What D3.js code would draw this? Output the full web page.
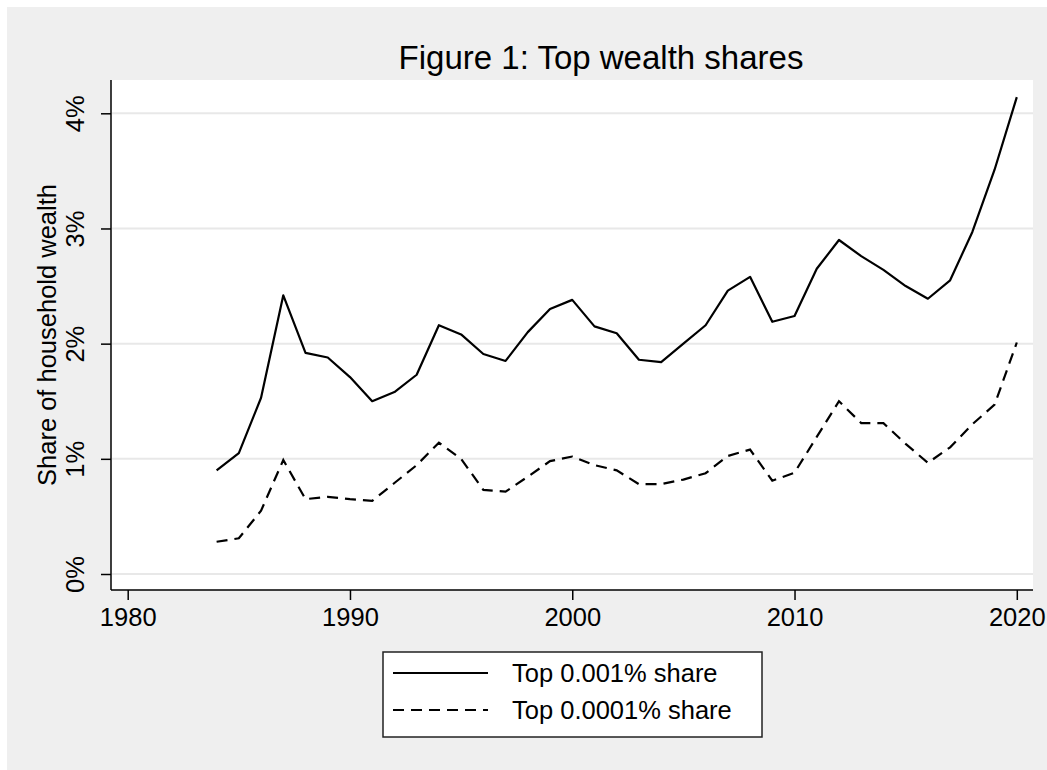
<!DOCTYPE html>
<html>
<head>
<meta charset="utf-8">
<script src="https://cdn.jsdelivr.net/npm/d3@7"></script>
<style>
  body { margin: 0; background: #fff; }
  text { font-family: "Liberation Sans", Arial, sans-serif; fill: #000; }
</style>
</head>
<body>
<div id="chart"></div>
<script>
// values (percent of household wealth)
const years = d3.range(1984, 2021);
const top001 = [0.90, 1.05, 1.53, 2.42, 1.92, 1.88, 1.71, 1.50, 1.58, 1.73,
    2.16, 2.08, 1.91, 1.85, 2.10, 2.30, 2.38, 2.15, 2.09, 1.86,
    1.84, 2.00, 2.16, 2.46, 2.58, 2.19, 2.24, 2.65, 2.90, 2.76,
    2.64, 2.50, 2.39, 2.55, 2.97, 3.51, 4.14];
const top0001 = [0.28, 0.31, 0.55, 0.99, 0.65, 0.67, 0.65, 0.635, 0.79, 0.945,
    1.14, 1.00, 0.73, 0.715, 0.845, 0.98, 1.02, 0.945, 0.90, 0.78,
    0.78, 0.82, 0.875, 1.025, 1.08, 0.81, 0.88, 1.19, 1.50, 1.31,
    1.31, 1.13, 0.965, 1.10, 1.30, 1.47, 2.01];
const xTicks = [1980, 1990, 2000, 2010, 2020];
const yTicks = [0, 1, 2, 3, 4];
const seriesNames = ["Top 0.001% share", "Top 0.0001% share"];

const W = 1047, H = 770;
const plot = {left: 111, top: 80, right: 1033, bottom: 590};

const svg = d3.select("#chart").append("svg")
    .attr("width", W)
    .attr("height", H);

svg.append("rect")
    .attr("x", 7).attr("y", 7)
    .attr("width", W - 7).attr("height", H - 7)
    .attr("fill", "#efefef");

svg.append("rect")
    .attr("x", plot.left).attr("y", plot.top)
    .attr("width", plot.right - plot.left)
    .attr("height", plot.bottom - plot.top)
    .attr("fill", "#fff");

const x = d3.scaleLinear().domain([1980, 2020]).range([127.7, 1016.8]);
const y = d3.scaleLinear().domain([0, 4]).range([574, 113.3]);

// grid lines
svg.append("g")
    .selectAll("line")
    .data(yTicks)
    .enter().append("line")
    .attr("x1", plot.left + 1)
    .attr("x2", plot.right)
    .attr("y1", d => y(d))
    .attr("y2", d => y(d))
    .attr("stroke", "#e8e8e8")
    .attr("stroke-width", 2);

// y axis
const yAxis = svg.append("g")
    .attr("transform", `translate(${plot.left}, 0)`)
    .call(d3.axisLeft(y).tickValues(yTicks).tickSize(10).tickFormat(d => d + "%"));
yAxis.select(".domain")
    .attr("d", `M0,${plot.top}V${plot.bottom}`)
    .attr("stroke", "#000").attr("stroke-width", 1.5);
yAxis.selectAll(".tick line").attr("stroke", "#000").attr("stroke-width", 1.5);
yAxis.selectAll(".tick text")
    .attr("x", null).attr("dy", null)
    .attr("transform", "translate(-27,0) rotate(-90)")
    .attr("text-anchor", "middle")
    .style("font-size", "25.5px")
    .style("font-family", '"Liberation Sans", Arial, sans-serif');

// x axis
const xAxis = svg.append("g")
    .attr("transform", `translate(0, ${plot.bottom})`)
    .call(d3.axisBottom(x).tickValues(xTicks).tickSize(10).tickFormat(d3.format("d")));
xAxis.select(".domain")
    .attr("d", `M${plot.left},0H${plot.right}`)
    .attr("stroke", "#000").attr("stroke-width", 1.5);
xAxis.selectAll(".tick line").attr("stroke", "#000").attr("stroke-width", 1.5);
xAxis.selectAll(".tick text")
    .attr("y", 36).attr("dy", null)
    .style("font-size", "25.5px")
    .style("font-family", '"Liberation Sans", Arial, sans-serif');

// axis title
svg.append("text")
    .attr("transform", `translate(56, ${(plot.top + plot.bottom) / 2}) rotate(-90)`)
    .attr("text-anchor", "middle")
    .style("font-size", "25.5px")
    .text("Share of household wealth");

// title
svg.append("text")
    .attr("x", 601)
    .attr("y", 69)
    .attr("text-anchor", "middle")
    .style("font-size", "33px")
    .text("Figure 1: Top wealth shares");

const line = d3.line()
    .x((d, i) => x(years[i]))
    .y(d => y(d));

svg.append("path")
    .datum(top001)
    .attr("fill", "none")
    .attr("stroke", "#000")
    .attr("stroke-width", 2.2)
    .attr("stroke-linejoin", "round")
    .attr("d", line);

svg.append("path")
    .datum(top0001)
    .attr("fill", "none")
    .attr("stroke", "#000")
    .attr("stroke-width", 2.2)
    .attr("stroke-dasharray", "11,7")
    .attr("d", line);

// legend
const legend = svg.append("g");
legend.append("rect")
    .attr("x", 383).attr("y", 652)
    .attr("width", 379).attr("height", 85)
    .attr("fill", "#fff")
    .attr("stroke", "#222")
    .attr("stroke-width", 1.5);

const dashes = [null, "11,7"];
seriesNames.forEach((name, i) => {
    const cy = 673 + i * 37;
    legend.append("line")
        .attr("x1", 393).attr("x2", 488)
        .attr("y1", cy).attr("y2", cy)
        .attr("stroke", "#000")
        .attr("stroke-width", 2.2)
        .attr("stroke-dasharray", dashes[i]);
    legend.append("text")
        .attr("x", 512)
        .attr("y", cy + 9)
        .style("font-size", "25.5px")
        .text(name);
});
</script>
</body>
</html>
